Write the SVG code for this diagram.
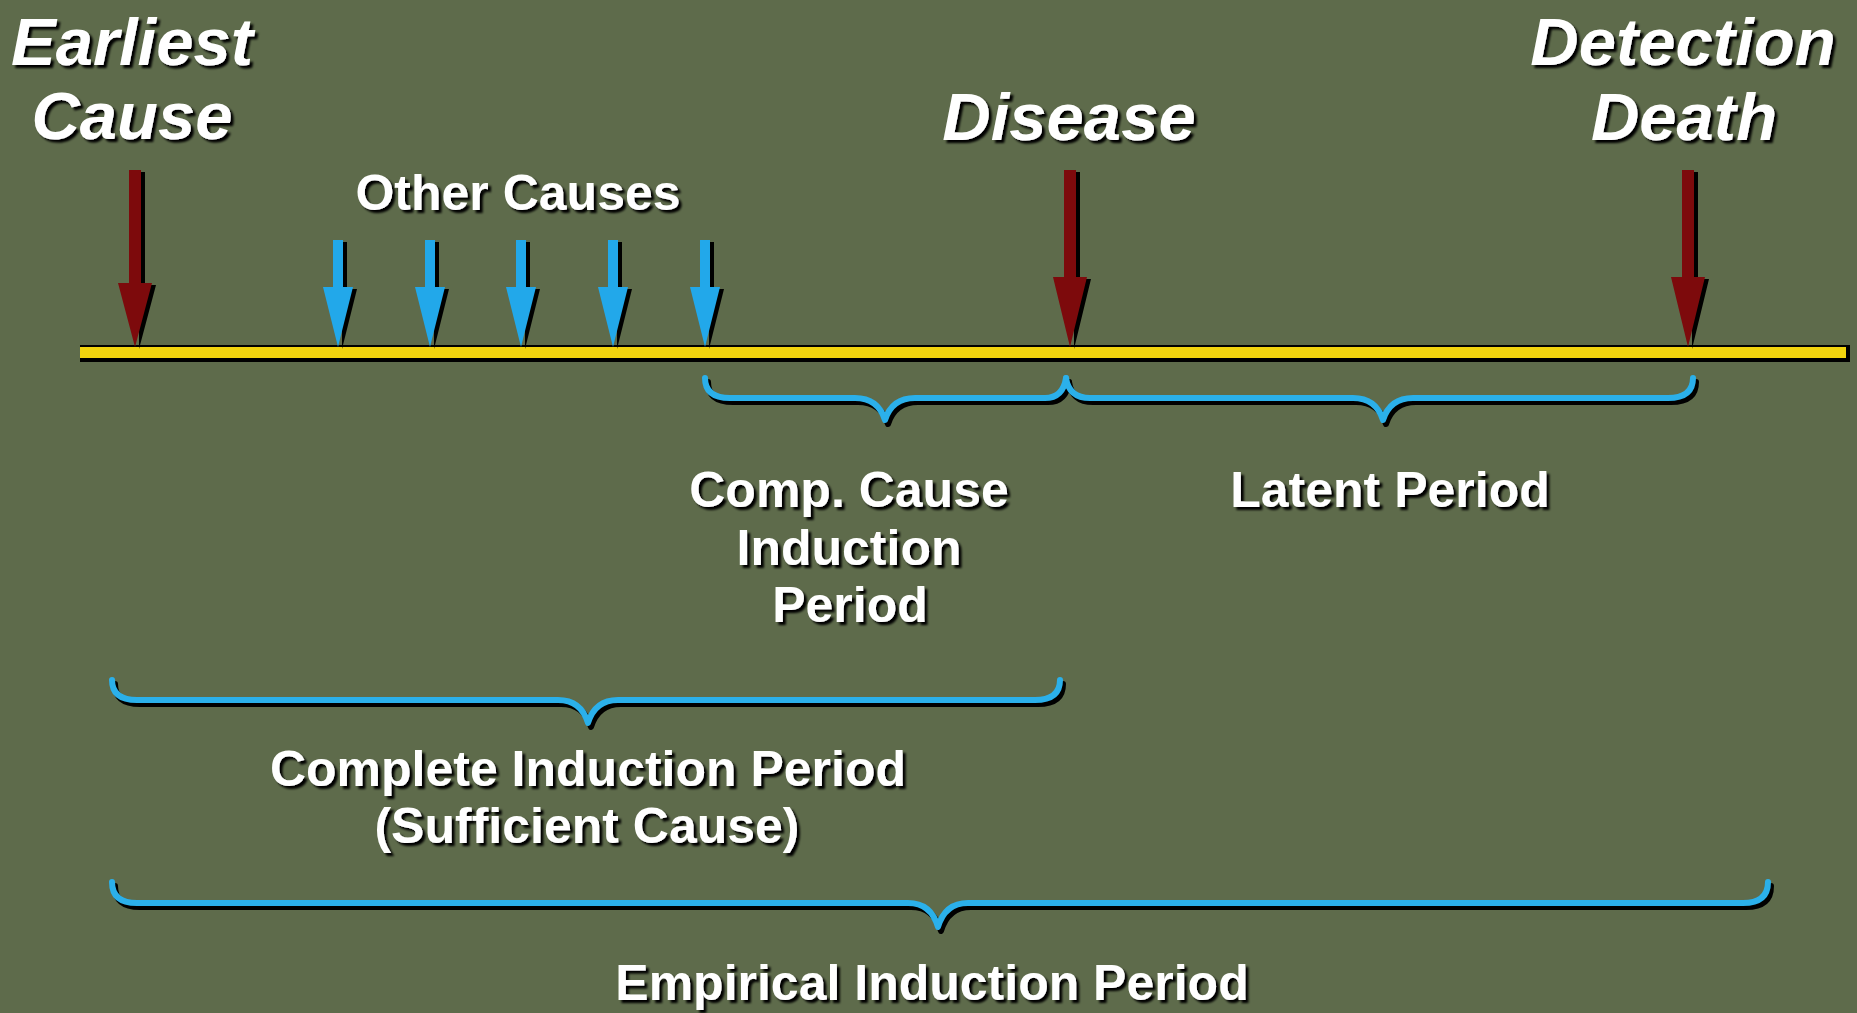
<svg xmlns="http://www.w3.org/2000/svg" width="1857" height="1013" viewBox="0 0 1857 1013">
<defs>
<filter id="ds" x="-10%" y="-30%" width="120%" height="160%">
<feDropShadow dx="3" dy="3" stdDeviation="1" flood-color="#000" flood-opacity="1"/>
</filter>
<style>
.title{font-family:"Liberation Sans",Arial,sans-serif;font-weight:bold;font-style:italic;font-size:67px;fill:#fff;text-anchor:middle;filter:url(#ds)}
.lbl{font-family:"Liberation Sans",Arial,sans-serif;font-weight:bold;font-size:50px;fill:#fff;text-anchor:middle;filter:url(#ds)}
.red{fill:#7d0a0c}
.blue{fill:#22a8ea}
.sh{fill:#000}
.brace{fill:none;stroke:#2bb0ea;stroke-width:6;stroke-linecap:round;stroke-linejoin:round}
.braceSh{fill:none;stroke:#000;stroke-width:6;stroke-linecap:round;stroke-linejoin:round}
</style>
</defs>
<rect width="1857" height="1013" fill="#5e6b4b"/>

<g id="timeline">
<rect x="80" y="345" width="1770" height="17" fill="#000"/>
<rect x="80" y="347" width="1766" height="11" fill="#f2d40e"/>
</g>

<g id="connectors">
<!-- red arrows -->
<g id="arrow-earliest">
<polygon class="sh" points="133,172 145,172 145,285 156,285 139,349 139,285 133,285"/>
<polygon class="red" points="129,170 141,170 141,283 152,283 135,347 118,283 129,283"/>
</g>
<g id="arrow-disease">
<polygon class="sh" points="1068,172 1080,172 1080,279 1091,279 1074,349 1074,279 1068,279"/>
<polygon class="red" points="1064,170 1076,170 1076,277 1087,277 1070,347 1053,277 1064,277"/>
</g>
<g id="arrow-death">
<polygon class="sh" points="1686,172 1698,172 1698,279 1709,279 1692,349 1692,279 1686,279"/>
<polygon class="red" points="1682,170 1694,170 1694,277 1705,277 1688,347 1671,277 1682,277"/>
</g>
<!-- blue arrows -->
<g id="blue-arrows">
<g transform="translate(338,0)">
<polygon class="sh" points="-1,242 9,242 9,289 19,289 4,349 4,289 -1,289"/>
<polygon class="blue" points="-5,240 5,240 5,287 15,287 0,347 -15,287 -5,287"/>
</g>
<g transform="translate(430,0)">
<polygon class="sh" points="-1,242 9,242 9,289 19,289 4,349 4,289 -1,289"/>
<polygon class="blue" points="-5,240 5,240 5,287 15,287 0,347 -15,287 -5,287"/>
</g>
<g transform="translate(521,0)">
<polygon class="sh" points="-1,242 9,242 9,289 19,289 4,349 4,289 -1,289"/>
<polygon class="blue" points="-5,240 5,240 5,287 15,287 0,347 -15,287 -5,287"/>
</g>
<g transform="translate(613,0)">
<polygon class="sh" points="-1,242 9,242 9,289 19,289 4,349 4,289 -1,289"/>
<polygon class="blue" points="-5,240 5,240 5,287 15,287 0,347 -15,287 -5,287"/>
</g>
<g transform="translate(705,0)">
<polygon class="sh" points="-1,242 9,242 9,289 19,289 4,349 4,289 -1,289"/>
<polygon class="blue" points="-5,240 5,240 5,287 15,287 0,347 -15,287 -5,287"/>
</g>
</g>
</g>

<g id="earliest-cause">
<text class="title" x="132" y="65">Earliest</text>
<text class="title" x="132" y="139">Cause</text>
</g>

<g id="other-causes">
<text class="lbl" x="518" y="210">Other Causes</text>
</g>

<g id="disease">
<text class="title" x="1069" y="140">Disease</text>
</g>

<g id="detection-death">
<text class="title" x="1683" y="65">Detection</text>
<text class="title" x="1684" y="140">Death</text>
</g>

<g id="comp-cause-period">
<path class="braceSh" transform="translate(3,4)" d="M705,378 Q705,398 730,398 H855 Q878,398 885,420 Q892,398 915,398 H1045 Q1063,398 1066,378"/>
<path class="brace" d="M705,378 Q705,398 730,398 H855 Q878,398 885,420 Q892,398 915,398 H1045 Q1063,398 1066,378"/>
<text class="lbl" x="849" y="507">Comp. Cause</text>
<text class="lbl" x="849" y="565">Induction</text>
<text class="lbl" x="850" y="622">Period</text>
</g>

<g id="latent-period">
<path class="braceSh" transform="translate(3,4)" d="M1066,378 Q1069,398 1090,398 H1353 Q1376,398 1383,420 Q1390,398 1413,398 H1668 Q1693,398 1693,378"/>
<path class="brace" d="M1066,378 Q1069,398 1090,398 H1353 Q1376,398 1383,420 Q1390,398 1413,398 H1668 Q1693,398 1693,378"/>
<text class="lbl" x="1390" y="507">Latent Period</text>
</g>

<g id="complete-induction-period">
<path class="braceSh" transform="translate(3,4)" d="M112,680 Q112,700 137,700 H558 Q581,700 588,723 Q595,700 618,700 H1035 Q1060,700 1060,680"/>
<path class="brace" d="M112,680 Q112,700 137,700 H558 Q581,700 588,723 Q595,700 618,700 H1035 Q1060,700 1060,680"/>
<text class="lbl" x="588" y="786">Complete Induction Period</text>
<text class="lbl" x="587" y="843">(Sufficient Cause)</text>
</g>

<g id="empirical-induction-period">
<path class="braceSh" transform="translate(3,4)" d="M112,882 Q112,903 137,903 H908 Q931,903 938,927 Q945,903 968,903 H1743 Q1768,903 1768,882"/>
<path class="brace" d="M112,882 Q112,903 137,903 H908 Q931,903 938,927 Q945,903 968,903 H1743 Q1768,903 1768,882"/>
<text class="lbl" x="932" y="1000">Empirical Induction Period</text>
</g>
</svg>
